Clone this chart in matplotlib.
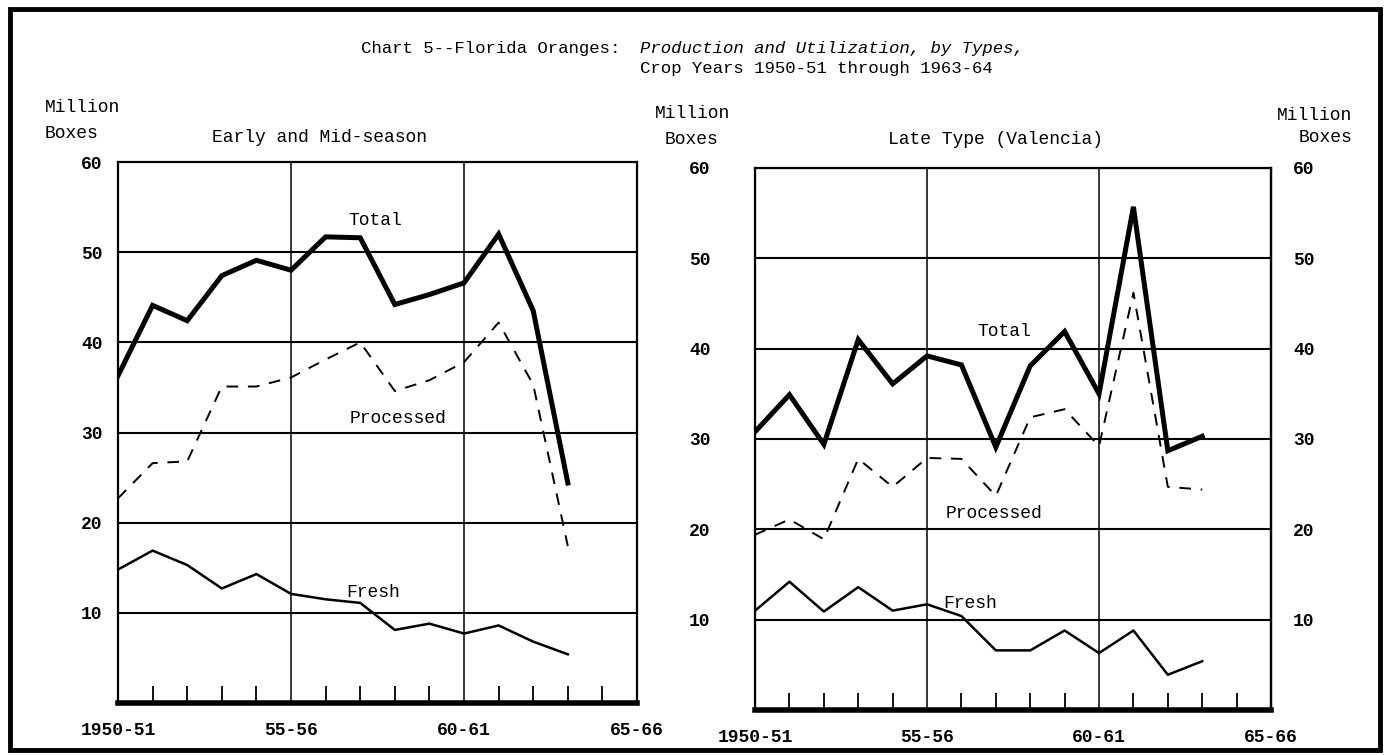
import matplotlib.pyplot as plt
from matplotlib.patches import Rectangle

# Crop years 1950-51 .. 1963-64 (index 0..13), axis runs to 65-66 (index 15)
years = list(range(14))
xtick_pos = [0, 5, 10, 15]
xtick_labels = ["1950-51", "55-56", "60-61", "65-66"]
ytick_pos = [10, 20, 30, 40, 50, 60]

# Early and Mid-season (million boxes)
early_total = [36.3, 44.1, 42.4, 47.4, 49.1, 48.0, 51.7, 51.6, 44.2, 45.3, 46.6, 52.0, 43.5, 24.4]
early_processed = [22.7, 26.6, 26.8, 35.1, 35.1, 36.1, 38.1, 40.0, 34.6, 35.8, 37.8, 42.2, 35.3, 17.4]
early_fresh = [14.8, 16.9, 15.3, 12.7, 14.3, 12.1, 11.5, 11.1, 8.1, 8.8, 7.7, 8.6, 6.8, 5.4]

# Late type (Valencia)
late_total = [30.8, 34.9, 29.4, 41.0, 36.1, 39.2, 38.2, 29.1, 38.1, 41.9, 35.0, 55.7, 28.7, 30.3]
late_processed = [19.4, 21.1, 18.9, 27.8, 24.7, 27.9, 27.8, 23.7, 32.4, 33.3, 29.2, 46.2, 24.7, 24.4]
late_fresh = [11.0, 14.2, 10.9, 13.6, 11.0, 11.7, 10.4, 6.6, 6.6, 8.8, 6.3, 8.8, 3.9, 5.4]

plt.rcParams['font.family'] = ['Liberation Mono', 'DejaVu Sans Mono']

W, H = 1390, 755
fig = plt.figure(figsize=(13.9, 7.55), dpi=100)

# outer frame
fig.patches.append(Rectangle((0.007, 0.007), 0.986, 0.981, transform=fig.transFigure,
                             fill=False, lw=3.5, ec='black'))

ax1 = fig.add_axes([0.0849, 0.0689, 0.3734, 0.7165])
ax2 = fig.add_axes([0.5432, 0.0596, 0.3712, 0.7179])


def bold_labels(labels):
    for lab in labels:
        lab.set_fontsize(13)
        lab.set_fontweight('bold')


def style(ax):
    ax.set_xlim(0, 15)
    ax.set_ylim(0, 60)
    ax.set_xticks(xtick_pos)
    ax.set_xticklabels(xtick_labels)
    ax.set_xticks(range(16), minor=True)
    ax.set_yticks(ytick_pos)
    ax.tick_params(axis='x', which='major', length=0, pad=14)
    ax.tick_params(axis='x', which='minor', direction='in', length=12, width=1.3)
    ax.tick_params(axis='y', length=0)
    bold_labels(ax.get_xticklabels())
    bold_labels(ax.get_yticklabels())
    for y in ytick_pos[:-1]:
        ax.axhline(y, color='black', lw=1.5, zorder=1)
    for x in [5, 10]:
        ax.axvline(x, color='black', lw=1.1, zorder=1)
    for s in ['left', 'right', 'top']:
        ax.spines[s].set_linewidth(1.6)
    ax.spines['bottom'].set_linewidth(4)


style(ax1)
style(ax2)
ax1.tick_params(axis='y', pad=11)
ax2.tick_params(axis='y', pad=32)

# right-hand scale of the Valencia panel
ax2r = ax2.twinx()
ax2r.set_ylim(0, 60)
ax2r.set_yticks(ytick_pos)
ax2r.tick_params(axis='y', length=0, pad=16)
bold_labels(ax2r.get_yticklabels())
ax2r.spines['right'].set_linewidth(1.6)

for ax, tot, proc, fr in [(ax1, early_total, early_processed, early_fresh),
                          (ax2, late_total, late_processed, late_fresh)]:
    ax.plot(years, tot, color='black', lw=3.6, solid_joinstyle='miter', zorder=3)
    ax.plot(years, proc, color='black', lw=1.4, dashes=(6, 5), zorder=3)
    ax.plot(years, fr, color='black', lw=1.8, zorder=3)

lbl = dict(ha='center', va='center', fontsize=13)
ax1.text(7.43, 53.5, "Total", **lbl)
ax1.text(8.1, 31.6, "Processed", **lbl)
ax1.text(7.37, 12.3, "Fresh", **lbl)
ax2.text(7.24, 41.9, "Total", **lbl)
ax2.text(6.95, 21.8, "Processed", **lbl)
ax2.text(6.25, 11.8, "Fresh", **lbl)

# panel titles and unit labels
fig.text(320 / W, 1 - 137 / H, "Early and Mid-season", ha='center', va='center', fontsize=13)
fig.text(995 / W, 1 - 140 / H, "Late Type (Valencia)", ha='center', va='center', fontsize=13)
fig.text(45 / W, 1 - 107 / H, "Million", ha='left', va='center', fontsize=13)
fig.text(45 / W, 1 - 133 / H, "Boxes", ha='left', va='center', fontsize=13)
fig.text(692 / W, 1 - 113 / H, "Million", ha='center', va='center', fontsize=13)
fig.text(692 / W, 1 - 139 / H, "Boxes", ha='center', va='center', fontsize=13)
fig.text(1352 / W, 1 - 115 / H, "Million", ha='right', va='center', fontsize=13)
fig.text(1352 / W, 1 - 138 / H, "Boxes", ha='right', va='center', fontsize=13)

# chart title
fig.text(620 / W, 1 - 48 / H, "Chart 5--Florida Oranges:", ha='right', va='center', fontsize=12.5)
fig.text(640 / W, 1 - 48 / H, "Production and Utilization, by Types,", ha='left', va='center',
         fontsize=12.5, style='italic')
fig.text(640 / W, 1 - 68 / H, "Crop Years 1950-51 through 1963-64", ha='left', va='center',
         fontsize=12.5)

fig.savefig("out.png", dpi=100)
